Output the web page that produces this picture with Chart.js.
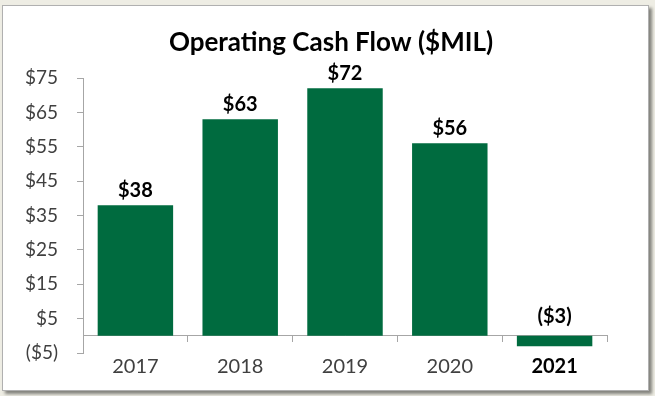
<!DOCTYPE html>
<html><head><meta charset="utf-8">
<script src="https://cdn.jsdelivr.net/npm/chart.js@4"></script>
<style>
html,body{margin:0;padding:0;width:655px;height:396px;overflow:hidden;background:#EEEDE4;}
#panel{position:absolute;left:2px;top:5px;width:645px;height:384px;background:#fff;border:1px solid #B0B0B0;box-shadow:3px 3px 3px rgba(0,0,0,0.45);}
#wrap{position:absolute;left:0;top:0;width:655px;height:396px;}
</style></head><body>
<div id="panel"></div>
<div id="wrap"><canvas id="c" width="655" height="396"></canvas></div>
<script>
const categories = ['2017', '2018', '2019', '2020', '2021'];
const cashFlow = [38, 63, 72, 56, -3];
const yTicks = [-5, 5, 15, 25, 35, 45, 55, 65, 75];
const titleText = 'Operating Cash Flow ($MIL)';

const FONT = 'Lato';
const BAR = '#006B3F';
const AXIS = '#A6A6A6';
const fmt = v => v < 0 ? '($' + Math.abs(v) + ')' : '$' + v;

const valueLabels = {
  id: 'valueLabels',
  afterDatasetsDraw(chart) {
    const ctx = chart.ctx;
    const meta = chart.getDatasetMeta(0);
    const zero = chart.scales.y.getPixelForValue(0);
    ctx.save();
    ctx.font = 'bold 20px ' + FONT;
    ctx.fillStyle = '#000';
    ctx.textAlign = 'center';
    ctx.textBaseline = 'middle';
    meta.data.forEach((bar, i) => {
      const v = chart.data.datasets[0].data[i];
      const top = Math.min(bar.y, zero);
      ctx.fillText(fmt(v), bar.x, top - (v < 0 ? 19 : 15));
    });
    ctx.restore();
  }
};

new Chart(document.getElementById('c'), {
  type: 'bar',
  data: {
    labels: categories,
    datasets: [{
      data: cashFlow,
      backgroundColor: BAR,
      borderWidth: 0,
      categoryPercentage: 1,
      barPercentage: 0.72
    }]
  },
  options: {
    responsive: false,
    animation: false,
    devicePixelRatio: 1,
    layout: { padding: { left: 7, right: 0, top: 0, bottom: 43 } },
    plugins: {
      legend: { display: false },
      tooltip: { enabled: false },
      title: {
        display: true,
        text: titleText,
        color: '#000',
        font: { family: FONT, size: 26, weight: 'bold', lineHeight: 1.2 },
        padding: { top: 27, bottom: 19.8 }
      }
    },
    scales: {
      x: {
        type: 'category',
        position: { y: 0 },
        grid: { display: true, drawOnChartArea: false, drawTicks: true, tickLength: 6, color: AXIS, offset: true },
        border: { display: true, color: AXIS, width: 1 },
        ticks: {
          padding: 13,
          font: ctx => ({ family: FONT, size: 20, weight: ctx.index === 4 ? 'bold' : 'normal' }),
          color: ctx => ctx.index === 4 ? '#000' : '#404040'
        }
      },
      y: {
        min: -5,
        max: 75,
        afterBuildTicks: s => { s.ticks = yTicks.map(v => ({ value: v })); },
        afterFit: s => { s.width = 76; },
        grid: { display: true, drawOnChartArea: false, drawTicks: true, tickLength: 6, color: AXIS },
        border: { display: true, color: AXIS, width: 1 },
        ticks: {
          padding: 19,
          font: { family: FONT, size: 19 },
          color: '#404040',
          callback: v => fmt(v)
        }
      },
      spacer: {
        type: 'linear',
        position: 'right',
        display: true,
        afterFit: s => { s.width = 48; },
        grid: { display: false, drawTicks: false },
        border: { display: false },
        ticks: { display: false }
      }
    }
  },
  plugins: [valueLabels]
});
</script>
</body></html>
